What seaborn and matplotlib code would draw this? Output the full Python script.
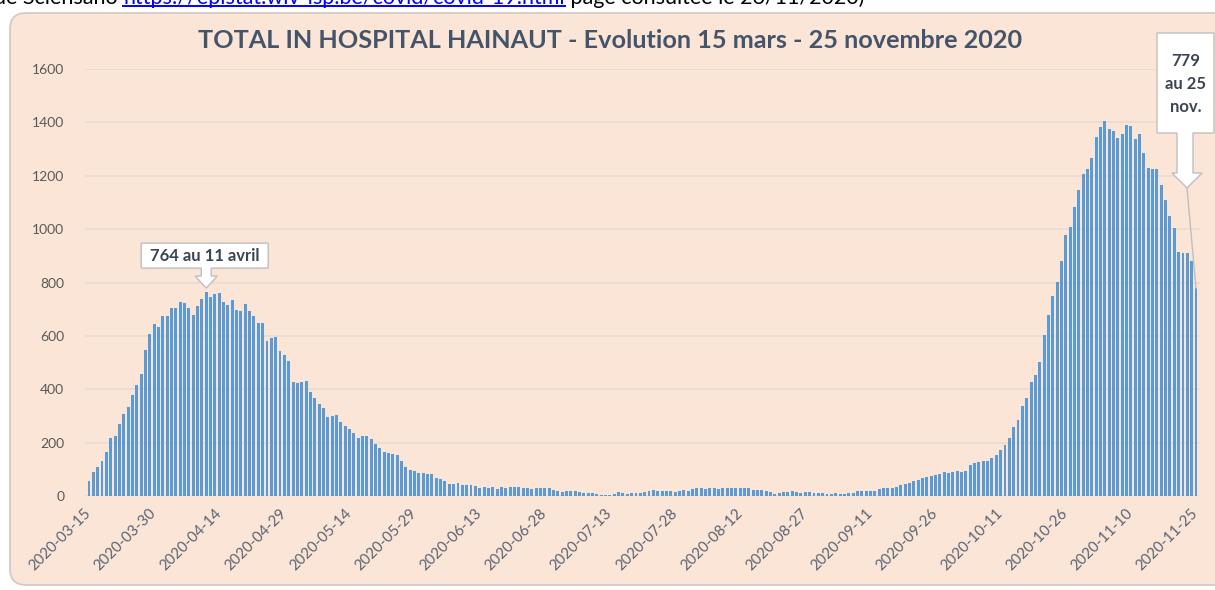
import numpy as np
import pandas as pd
import matplotlib
matplotlib.use("Agg")
import matplotlib.pyplot as plt
import seaborn as sns
from matplotlib.patches import FancyBboxPatch, Polygon
from matplotlib.transforms import IdentityTransform, ScaledTranslation
from matplotlib.lines import Line2D

# patients in hospital, Hainaut, one list per month
mars = [57, 89, 109, 131, 166, 217, 223, 268, 308, 335, 377, 415, 456, 546, 608, 645, 634]
avril = [676, 676, 704, 704, 727, 724, 704, 678, 711, 739, 764, 746, 756, 760, 727,
         717, 733, 698, 692, 720, 692, 675, 650, 647, 580, 591, 596, 542, 529, 507]
mai = [428, 424, 427, 430, 388, 366, 343, 328, 295, 299, 305, 279, 263, 250, 235, 218,
       226, 226, 212, 196, 180, 164, 161, 158, 155, 132, 110, 98, 92, 86, 86]
juin = [82, 82, 68, 62, 56, 45, 45, 47, 41, 41, 41, 38, 31, 35, 31,
        35, 27, 35, 31, 35, 35, 35, 31, 29, 25, 29, 29, 29, 29, 22]
juillet = [19, 15, 19, 19, 19, 15, 12, 12, 12, 9, 5, 5, 5, 9, 15, 12, 9, 12, 12, 12,
           15, 19, 22, 19, 19, 19, 19, 15, 19, 22, 19]
aout = [25, 31, 31, 25, 29, 29, 25, 29, 29, 29, 29, 29, 29, 29, 22, 22, 22, 19, 15,
        9, 12, 15, 15, 19, 15, 12, 15, 15, 12, 12, 12]
septembre = [9, 9, 12, 9, 9, 12, 12, 19, 19, 19, 19, 19, 25, 31, 29, 31, 35, 41, 44, 47,
             57, 60, 66, 72, 76, 79, 82, 90, 86, 90]
octobre = [95, 90, 92, 115, 125, 129, 130, 130, 142, 152, 172, 191, 219, 257, 284, 338,
           369, 426, 452, 501, 603, 677, 750, 801, 881, 978, 1009, 1083, 1148, 1207, 1226]
novembre = [1268, 1346, 1384, 1405, 1377, 1368, 1342, 1356, 1391, 1387, 1336, 1358, 1285,
            1229, 1224, 1224, 1166, 1110, 1048, 1004, 916, 910, 910, 882, 779]

hosp = mars + avril + mai + juin + juillet + aout + septembre + octobre + novembre
jours = pd.date_range("2020-03-15", "2020-11-25", freq="D").strftime("%Y-%m-%d")
df = pd.DataFrame({"jour": jours, "hospitalises": hosp})

titre = "TOTAL IN HOSPITAL HAINAUT - Evolution 15 mars - 25 novembre 2020"
pic_idx = 27  # 11 avril

W, H = 1215, 590
plt.rcParams["font.family"] = ["Lato", "DejaVu Sans"]
fig = plt.figure(figsize=(W / 100, H / 100), dpi=100)
fig.patch.set_facecolor("white")

# peach panel with rounded corners (pixel coordinates, origin bottom-left)
panel = FancyBboxPatch((10, H - 585), 1230, 572, boxstyle="round,pad=0,rounding_size=16",
                       facecolor="#FBE5D6", edgecolor="#D0C8C2", linewidth=1.2,
                       transform=IdentityTransform(), zorder=0)
fig.add_artist(panel)

# cut-off line of the surrounding document (only its lower part is visible)
base_y = 1 - 4 / H
t1 = fig.text(-6 / W, base_y, "de Sciensano ", fontsize=15.5, color="black", va="baseline")
fig.canvas.draw()
x_link = t1.get_window_extent().x1
t2 = fig.text(x_link / W, base_y, "https://epistat.wiv-isp.be/covid/covid-19.html",
              fontsize=15.5, color="#0000FF", va="baseline")
fig.canvas.draw()
bb = t2.get_window_extent()
fig.add_artist(Line2D([bb.x0, bb.x1], [H - 6, H - 6], color="#0000FF", linewidth=1.4,
                      transform=IdentityTransform()))
fig.text(bb.x1 / W, base_y, " page consultée le 26/11/2020)", fontsize=15.5,
         color="black", va="baseline")

ax = fig.add_axes([85 / W, (H - 496) / H, 1115 / W, 427 / H])
ax.set_facecolor("none")
sns.barplot(data=df, x="jour", y="hospitalises", color="#5B9BD5", saturation=1,
            width=0.68, linewidth=0, ax=ax)
ax.set_xlim(-0.92, len(df) - 0.08)
ax.set_ylim(0, 1600)
ax.set_yticks(range(0, 1601, 200))
ax.yaxis.grid(True, color="#EADDD3", linewidth=1.3)
ax.set_axisbelow(True)
for s in ax.spines.values():
    s.set_visible(False)
ax.set_xlabel("")
ax.set_ylabel("")
ticks = list(range(0, len(df), 15))
ax.set_xticks(ticks)
ax.set_xticklabels(df["jour"].iloc[ticks], rotation=45, ha="right", va="center",
                   rotation_mode="anchor", fontsize=10.8, color="#5A6373")
# Excel puts the end of each label a little right of its tick
shift = ScaledTranslation(8 / 100, 0, fig.dpi_scale_trans)
for lab in ax.get_xticklabels():
    lab.set_transform(lab.get_transform() + shift)
ax.tick_params(axis="both", length=0)
ax.tick_params(axis="x", pad=11)
ax.tick_params(axis="y", pad=15, labelsize=10, labelcolor="#595959")

fig.text(610 / W, 1 - 40 / H, titre, ha="center", va="center", fontsize=18.2,
         fontweight="bold", color="#44546A")

fig.canvas.draw()
txt_col = "#3B4454"

# callout "764 au 11 avril" (down-arrow callout above the peak)
tx, ty = ax.transData.transform((pic_idx, hosp[pic_idx]))
ty += 4
c1 = [(tx - 65, ty + 45), (tx + 62, ty + 45), (tx + 62, ty + 20), (tx + 5, ty + 20),
      (tx + 5, ty + 12), (tx + 11, ty + 12), (tx, ty), (tx - 11, ty + 12),
      (tx - 5, ty + 12), (tx - 5, ty + 20), (tx - 65, ty + 20)]
fig.add_artist(Polygon(c1, closed=True, facecolor="white", edgecolor="#BFBFBF",
                       linewidth=1, transform=IdentityTransform(), zorder=5))
fig.text((tx - 1.5) / W, (ty + 32.5) / H, f"{hosp[pic_idx]} au 11 avril", ha="center",
         va="center", fontsize=12, fontweight="bold", color=txt_col, zorder=6)

# callout "779 au 25 nov." with leader line to the last bar
lx, ly = ax.transData.transform((len(df) - 1, hosp[-1]))
ax2x, ax2y = 1187, H - 188
fig.add_artist(Line2D([ax2x, lx], [ax2y, ly], color="#BFBFBF", linewidth=1,
                      transform=IdentityTransform(), zorder=4))
c2 = [(1157, H - 33), (1214, H - 33), (1214, H - 133), (1193, H - 133), (1193, H - 173),
      (1202, H - 173), (ax2x, ax2y), (1172, H - 173), (1177, H - 173), (1177, H - 133),
      (1157, H - 133)]
fig.add_artist(Polygon(c2, closed=True, facecolor="white", edgecolor="#BFBFBF",
                       linewidth=1, transform=IdentityTransform(), zorder=5))
fig.text(1185.5 / W, 1 - 84 / H, f"{hosp[-1]}\nau 25\nnov.", ha="center", va="center",
         fontsize=12, fontweight="bold", color=txt_col, linespacing=1.5, zorder=6)

fig.savefig("out.png", dpi=100)
